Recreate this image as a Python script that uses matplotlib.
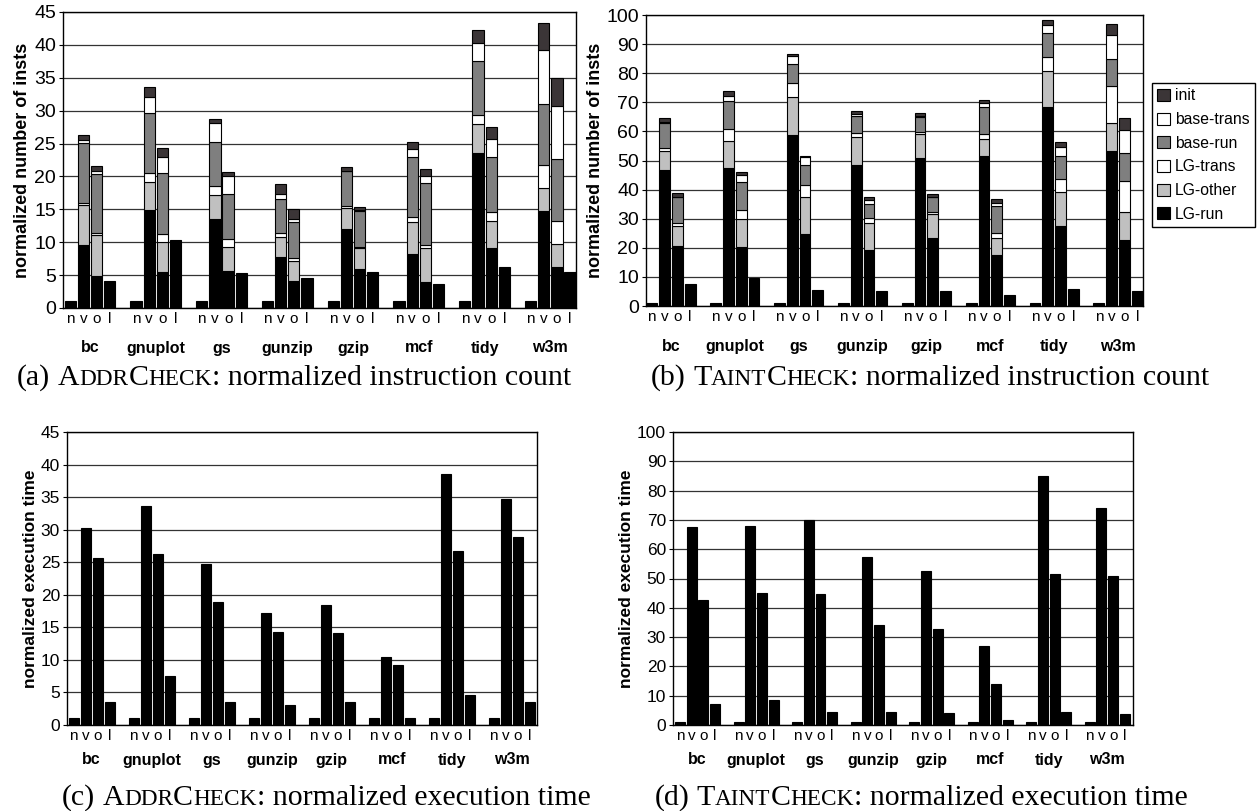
import matplotlib
matplotlib.use("Agg")
import matplotlib.pyplot as plt
import matplotlib.patches as mpatches
import numpy as np

plt.rcParams["font.family"] = ["Liberation Sans", "DejaVu Sans"]

W, H = 1259, 811

benchmarks = ["bc", "gnuplot", "gs", "gunzip", "gzip", "mcf", "tidy", "w3m"]
bar_labels = ["n", "v", "o", "l"]

# layer order, bottom to top
layers = ["LG-run", "LG-other", "LG-trans", "base-run", "base-trans", "init"]
layer_colors = ["#000000", "#c0c0c0", "#ffffff", "#7f7f7f", "#ffffff", "#3b3537"]

# (a) AddrCheck normalized instruction count
addr_n = [1.0, 1.0, 1.0, 1.0, 1.0, 1.0, 1.0, 1.0]
addr_l = [4.1, 10.4, 5.3, 4.5, 5.5, 3.6, 6.2, 5.5]
addr_v_lg_run = [9.6, 14.9, 13.6, 7.8, 12.0, 8.2, 23.6, 14.75]
addr_v_lg_other = [6.0, 4.3, 3.6, 2.95, 3.2, 4.9, 4.3, 3.45]
addr_v_lg_trans = [0.4, 1.3, 1.35, 0.6, 0.3, 0.7, 1.45, 3.5]
addr_v_base_run = [9.1, 9.2, 6.75, 5.25, 5.3, 9.2, 8.15, 9.3]
addr_v_base_trans = [0.5, 2.4, 2.8, 0.8, 0.1, 1.2, 2.85, 8.2]
addr_v_init = [0.7, 1.55, 0.6, 1.4, 0.6, 1.1, 1.9, 4.1]
addr_o_lg_run = [4.9, 5.5, 5.7, 4.1, 5.9, 4.0, 9.1, 6.2]
addr_o_lg_other = [6.2, 4.6, 3.6, 3.05, 3.2, 5.1, 4.2, 3.6]
addr_o_lg_trans = [0.3, 1.1, 1.2, 0.5, 0.2, 0.5, 1.35, 3.5]
addr_o_base_run = [8.9, 9.3, 6.8, 5.35, 5.5, 9.4, 8.25, 9.3]
addr_o_base_trans = [0.6, 2.4, 2.8, 0.6, 0.1, 1.0, 2.8, 8.1]
addr_o_init = [0.7, 1.5, 0.6, 1.4, 0.5, 1.1, 1.8, 4.2]

# (b) TaintCheck normalized instruction count
taint_n = [1.0, 1.0, 1.0, 1.0, 1.0, 1.0, 1.0, 1.0]
taint_l = [7.5, 9.6, 5.6, 5.2, 5.2, 3.7, 5.7, 5.2]
taint_v_lg_run = [46.7, 47.3, 58.8, 48.4, 51.0, 51.5, 68.5, 53.3]
taint_v_lg_other = [6.6, 9.4, 13.0, 9.8, 8.1, 5.8, 12.1, 9.7]
taint_v_lg_trans = [1.0, 4.0, 4.8, 1.3, 0.8, 1.8, 4.9, 12.7]
taint_v_base_run = [8.6, 9.6, 6.5, 5.9, 5.2, 9.2, 8.3, 9.1]
taint_v_base_trans = [0.3, 1.9, 2.9, 0.7, 0.2, 1.4, 2.9, 8.2]
taint_v_init = [1.4, 1.6, 0.6, 0.9, 0.9, 1.1, 1.7, 4.0]
taint_o_lg_run = [20.6, 20.3, 24.6, 19.2, 23.5, 17.45, 27.4, 22.8]
taint_o_lg_other = [7.0, 9.55, 12.9, 9.4, 8.1, 5.75, 11.9, 9.6]
taint_o_lg_trans = [0.8, 3.15, 4.1, 1.5, 0.8, 1.9, 4.3, 10.65]
taint_o_base_run = [8.9, 9.5, 6.9, 5.1, 5.1, 9.2, 7.9, 9.45]
taint_o_base_trans = [0.2, 2.5, 2.6, 1.2, 0.1, 1.2, 3.3, 8.0]
taint_o_init = [1.2, 1.2, 0.6, 0.9, 0.9, 1.1, 1.7, 4.0]

# (c) AddrCheck normalized execution time
addr_time_n = [1.0, 1.0, 1.0, 1.0, 1.0, 1.0, 1.0, 1.0]
addr_time_v = [30.3, 33.7, 24.7, 17.2, 18.5, 10.4, 38.5, 34.7]
addr_time_o = [25.6, 26.2, 18.9, 14.3, 14.1, 9.15, 26.8, 28.8]
addr_time_l = [3.6, 7.6, 3.5, 3.1, 3.6, 1.0, 4.55, 3.5]

# (d) TaintCheck normalized execution time
taint_time_n = [1.0, 1.0, 1.0, 1.0, 1.0, 1.0, 1.0, 1.0]
taint_time_v = [67.7, 68.0, 70.0, 57.5, 52.6, 27.0, 85.0, 73.9]
taint_time_o = [42.7, 45.2, 44.7, 34.1, 32.7, 13.9, 51.6, 51.0]
taint_time_l = [7.2, 8.6, 4.3, 4.3, 4.1, 1.6, 4.5, 3.9]

BAR_W = 0.85
GROUP = 5


def px_rect(left, top, right, bottom):
    return [left / W, 1 - bottom / H, (right - left) / W, (bottom - top) / H]


def style_axes(ax, ymax, ystep, ylabel, tick_fs, label_fs, xlim, group_y):
    ax.set_ylim(0, ymax)
    ax.set_yticks(np.arange(0, ymax + 1, ystep))
    ax.set_xlim(*xlim)
    ax.yaxis.grid(True, color="#333333", lw=0.9)
    ax.set_axisbelow(True)
    for sp in ax.spines.values():
        sp.set_color("black")
        sp.set_linewidth(1.0)
    ticks = [g * GROUP + j for g in range(len(benchmarks)) for j in range(4)]
    ax.set_xticks(ticks)
    ax.set_xticklabels(bar_labels * len(benchmarks), fontsize=11)
    ax.tick_params(axis="x", length=0, pad=3)
    ax.tick_params(axis="y", labelsize=tick_fs, length=3, pad=2)
    ax.set_ylabel(ylabel, fontsize=label_fs, fontweight="bold", labelpad=2)
    for g, name in enumerate(benchmarks):
        ax.text(g * GROUP + 1.5, group_y, name, transform=ax.get_xaxis_transform(),
                ha="center", va="center", fontsize=11.5, fontweight="bold")


def draw_stacked(ax, n_vals, v_layers, o_layers, l_vals):
    x = np.arange(len(benchmarks)) * GROUP
    ax.bar(x, n_vals, BAR_W, color="black", edgecolor="black", lw=0.8)
    ax.bar(x + 3, l_vals, BAR_W, color="black", edgecolor="black", lw=0.8)
    for off, stack in ((1, v_layers), (2, o_layers)):
        bottom = np.zeros(len(benchmarks))
        for vals, col in zip(stack, layer_colors):
            ax.bar(x + off, vals, BAR_W, bottom=bottom, color=col,
                   edgecolor="black", lw=0.8)
            bottom += np.array(vals)


def draw_plain(ax, n_vals, v_vals, o_vals, l_vals):
    x = np.arange(len(benchmarks)) * GROUP
    for off, vals in enumerate((n_vals, v_vals, o_vals, l_vals)):
        ax.bar(x + off, vals, BAR_W, color="black", edgecolor="black", lw=0.8)


def caption(fig, xc_px, yc_px, parts, size):
    # small-caps style caption: parts are (text, small) tuples, "" = space
    renderer = fig.canvas.get_renderer()
    kw = dict(family=["Liberation Serif", "DejaVu Serif"], va="baseline", ha="left")
    probe = fig.text(0, 0, "a a", fontsize=size, **kw)
    probe2 = fig.text(0, 0, "aa", fontsize=size, **kw)
    space = (probe.get_window_extent(renderer).width
             - probe2.get_window_extent(renderer).width)
    probe.remove()
    probe2.remove()
    items = []
    total = 0.0
    for s, small in parts:
        if s == "":
            items.append((None, space))
            total += space
            continue
        t = fig.text(0, 0, s, fontsize=size * 0.78 if small else size, **kw)
        w = t.get_window_extent(renderer).width
        items.append((t, w))
        total += w
    x = xc_px - total / 2
    for t, w in items:
        if t is not None:
            t.set_position((x / W, 1 - yc_px / H))
        x += w


fig = plt.figure(figsize=(W / 100, H / 100), dpi=100)
fig.patch.set_facecolor("white")

ax_a = fig.add_axes(px_rect(63, 12, 576, 308))
draw_stacked(ax_a, addr_n,
             [addr_v_lg_run, addr_v_lg_other, addr_v_lg_trans,
              addr_v_base_run, addr_v_base_trans, addr_v_init],
             [addr_o_lg_run, addr_o_lg_other, addr_o_lg_trans,
              addr_o_base_run, addr_o_base_trans, addr_o_init],
             addr_l)
style_axes(ax_a, 45, 5, "normalized number of insts", 14, 13,
           (-0.55, 38.45), -40 / 296)

ax_b = fig.add_axes(px_rect(646, 15, 1143, 306))
draw_stacked(ax_b, taint_n,
             [taint_v_lg_run, taint_v_lg_other, taint_v_lg_trans,
              taint_v_base_run, taint_v_base_trans, taint_v_init],
             [taint_o_lg_run, taint_o_lg_other, taint_o_lg_trans,
              taint_o_base_run, taint_o_base_trans, taint_o_init],
             taint_l)
style_axes(ax_b, 100, 10, "normalized number of insts", 14, 13,
           (-0.45, 38.45), -40 / 291)

ax_c = fig.add_axes(px_rect(67, 432, 537, 725))
draw_plain(ax_c, addr_time_n, addr_time_v, addr_time_o, addr_time_l)
style_axes(ax_c, 45, 5, "normalized execution time", 12.5, 12.5,
           (-0.56, 38.6), -35 / 293)

ax_d = fig.add_axes(px_rect(673, 432, 1133, 725))
draw_plain(ax_d, taint_time_n, taint_time_v, taint_time_o, taint_time_l)
style_axes(ax_d, 100, 10, "normalized execution time", 12.5, 12.5,
           (-0.6, 38.7), -35 / 293)

handles = [mpatches.Patch(facecolor=c, edgecolor="black", lw=0.8, label=l)
           for l, c in zip(layers, layer_colors)][::-1]
fig.legend(handles=handles, loc="upper left",
           bbox_to_anchor=(1152 / W, 1 - 83 / H), fontsize=11.3,
           frameon=True, fancybox=False, edgecolor="black", framealpha=1,
           handlelength=0.8, handleheight=0.8, handletextpad=0.3,
           labelspacing=0.55, borderpad=0.35, borderaxespad=0)

caption(fig, 294, 385, [("(a)", False), ("", False), ("A", False), ("DDR", True),
                        ("C", False), ("HECK", True),
                        (": normalized instruction count", False)], 21.5)
caption(fig, 930, 385, [("(b)", False), ("", False), ("T", False), ("AINT", True),
                        ("C", False), ("HECK", True),
                        (": normalized instruction count", False)], 21.5)
caption(fig, 326, 805, [("(c)", False), ("", False), ("A", False), ("DDR", True),
                        ("C", False), ("HECK", True),
                        (": normalized execution time", False)], 21.5)
caption(fig, 921, 805, [("(d)", False), ("", False), ("T", False), ("AINT", True),
                        ("C", False), ("HECK", True),
                        (": normalized execution time", False)], 21.5)

fig.savefig("out.png", dpi=100, facecolor="white")
